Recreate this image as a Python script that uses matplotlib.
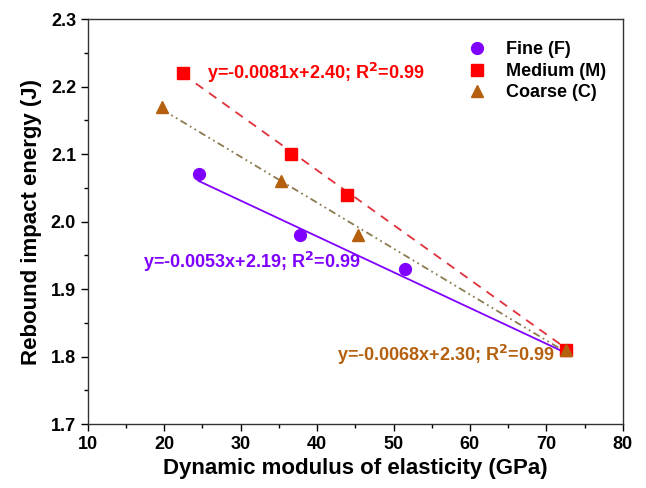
import matplotlib.pyplot as plt
import numpy as np
from matplotlib.ticker import MultipleLocator

plt.rcParams['font.family'] = ['Liberation Sans', 'DejaVu Sans']
plt.rcParams['font.weight'] = 'bold'

# datos medidos por granulometria
x_fine = [24.5, 37.7, 51.5, 72.6]
y_fine = [2.07, 1.98, 1.93, 1.81]
x_medium = [22.4, 36.6, 43.9, 72.6]
y_medium = [2.22, 2.10, 2.04, 1.81]
x_coarse = [19.7, 35.3, 45.3, 72.6]
y_coarse = [2.17, 2.06, 1.98, 1.81]

# ajustes lineales (pendiente, intercepto)
fit_fine = (-0.0053, 2.19)
fit_medium = (-0.0081, 2.40)
fit_coarse = (-0.0068, 2.30)

c_fine = '#8000ff'
c_medium = '#ff0000'
c_coarse = '#b5600f'

fig = plt.figure(figsize=(6.46, 4.88), dpi=100)
ax = fig.add_axes([0.136, 0.131, 0.828, 0.830])

def recta(xs, fit):
    xs = np.array([min(xs), max(xs)])
    return xs, fit[0] * xs + fit[1]

xl, yl = recta(x_fine, fit_fine)
ax.plot(xl, yl, '-', color=c_fine, lw=1.3)
xl, yl = recta(x_medium, fit_medium)
ax.plot(xl, yl, '--', color='#e0303a', lw=1.3, dashes=(5, 4))
xl, yl = recta(x_coarse, fit_coarse)
ax.plot(xl, yl, color='#8c7a50', lw=1.3, dashes=(4, 2, 1, 2, 1, 2))

ax.plot(x_fine, y_fine, 'o', color=c_fine, ms=8.5, ls='none', label='Fine (F)')
ax.plot(x_medium, y_medium, 's', color=c_medium, ms=8, ls='none', label='Medium (M)')
ax.plot(x_coarse, y_coarse, '^', color=c_coarse, ms=9, ls='none', label='Coarse (C)')

# etiquetas con la ecuacion de cada ajuste
ax.text(25.6, 2.22, 'y=-0.0081x+2.40; R$^\\mathbf{2}$=0.99', color=c_medium,
        fontsize=13, fontweight='bold', va='center')
ax.text(17.2, 1.94, 'y=-0.0053x+2.19; R$^\\mathbf{2}$=0.99', color=c_fine,
        fontsize=13, fontweight='bold', va='center')
ax.text(42.6, 1.803, 'y=-0.0068x+2.30; R$^\\mathbf{2}$=0.99', color=c_coarse,
        fontsize=13, fontweight='bold', va='center')

ax.set_xlim(10, 80)
ax.set_ylim(1.7, 2.3)
ax.xaxis.set_major_locator(MultipleLocator(10))
ax.xaxis.set_minor_locator(MultipleLocator(5))
ax.yaxis.set_major_locator(MultipleLocator(0.1))
ax.yaxis.set_minor_locator(MultipleLocator(0.05))
ax.yaxis.set_major_formatter(plt.FormatStrFormatter('%.1f'))
ax.tick_params(which='major', direction='out', length=5, width=1, labelsize=13)
ax.tick_params(which='minor', direction='out', length=3, width=1)
for s in ax.spines.values():
    s.set_color('#333333')
    s.set_linewidth(1)

ax.set_xlabel('Dynamic modulus of elasticity (GPa)', fontsize=16, fontweight='bold', labelpad=4)
ax.set_ylabel('Rebound impact energy (J)', fontsize=16, fontweight='bold', labelpad=6)

ax.legend(loc='upper right', bbox_to_anchor=(1.0, 0.985), frameon=False,
          handletextpad=0.9, labelspacing=0.25, handlelength=1.5,
          prop={'weight': 'bold', 'size': 13})

plt.savefig('out.png', dpi=100)
